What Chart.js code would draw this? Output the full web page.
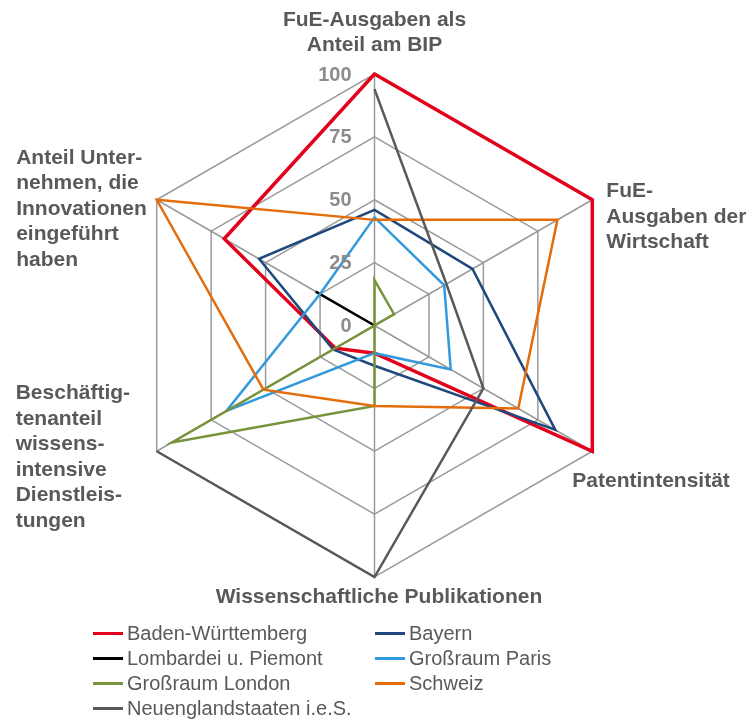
<!DOCTYPE html>
<html><head><meta charset="utf-8">
<script src="https://cdn.jsdelivr.net/npm/chart.js@4/dist/chart.umd.min.js"></script>
<style>
html,body{margin:0;padding:0;background:#fff;}
#wrap{position:relative;width:750px;height:719px;overflow:hidden;}
.li{position:absolute;height:24px;display:flex;align-items:center;font:20px "Liberation Sans",Arial,sans-serif;color:#595959;white-space:nowrap;}
.li i{display:inline-block;width:30px;height:3px;margin-right:4px;}
</style></head><body>
<div id="wrap"><canvas id="c" width="750" height="719"></canvas><div id="legend"></div></div>
<script>
// ---- data ----
const categories = [
  'FuE-Ausgaben als Anteil am BIP',
  'FuE-Ausgaben der Wirtschaft',
  'Patentintensität',
  'Wissenschaftliche Publikationen',
  'Beschäftigtenanteil wissensintensive Dienstleistungen',
  'Anteil Unternehmen, die Innovationen eingeführt haben'
];
const categoryLines = [
  ['FuE-Ausgaben als', 'Anteil am BIP'],
  ['FuE-', 'Ausgaben der', 'Wirtschaft'],
  ['Patentintensität'],
  ['Wissenschaftliche Publikationen'],
  ['Beschäftig-', 'tenanteil', 'wissens-', 'intensive', 'Dienstleis-', 'tungen'],
  ['Anteil Unter-', 'nehmen, die', 'Innovationen', 'eingeführt', 'haben']
];
const tickValues = [0, 25, 50, 75, 100];
const seriesNames = ['Baden-Württemberg', 'Bayern', 'Lombardei u. Piemont', 'Großraum Paris', 'Großraum London', 'Schweiz', 'Neuenglandstaaten i.e.S.'];
const badenWuerttemberg = [100, 100, 100, 11, 18, 69];
const bayern            = [46, 45, 83, 16, 19, 53];
const lombardei         = [0, 0, 0, 0, 0, 27];
const paris             = [43, 32, 35, 11, 68, 25];
const london            = [18, 9, 0, 32, 93, 0];
const schweiz           = [42, 84, 66, 32, 51, 100];
const neuengland        = [94, 33, 50, 100, 100, null];
const seriesValues = [badenWuerttemberg, bayern, lombardei, paris, london, schweiz, neuengland];

// ---- styles ----
const seriesColors = ['#E3001B', '#1F497D', '#000000', '#3399DD', '#77933C', '#E46C0A', '#595959'];
const seriesWidths = [3.5, 2.5, 2.5, 2.5, 2.5, 2.5, 2.5];
const FONT = '"Liberation Sans", Arial, sans-serif';
const labelLayout = [
  {align: 'center', dx: 0,      dy: -54},
  {align: 'left',   dx: 14,     dy: -8.5},
  {align: 'left',   dx: -20,    dy: 30},
  {align: 'center', dx: 4.5,    dy: 20.5},
  {align: 'left',   dx: -141,   dy: -58},
  {align: 'left',   dx: -140.5, dy: -42}
];
const lineGap = 25.5;

const labelPlugin = {
  id: 'customLabels',
  afterDraw(chart) {
    const s = chart.scales.r, ctx = chart.ctx;
    ctx.save();
    ctx.textBaseline = 'middle';
    ctx.font = 'bold 21px ' + FONT;
    ctx.fillStyle = '#595959';
    categoryLines.forEach((lines, i) => {
      const p = s.getPointPositionForValue(i, s.max);
      const L = labelLayout[i];
      ctx.textAlign = L.align;
      lines.forEach((t, k) => ctx.fillText(t, p.x + L.dx, p.y + L.dy + k * lineGap));
    });
    ctx.font = 'bold 20px ' + FONT;
    ctx.fillStyle = '#8C8C8C';
    ctx.textAlign = 'right';
    tickValues.forEach(v => {
      const p = s.getPointPositionForValue(0, v);
      ctx.fillText(String(v), p.x - 23, p.y + 1);
    });
    ctx.restore();
  }
};

new Chart(document.getElementById('c'), {
  type: 'radar',
  data: {
    labels: categories,
    datasets: seriesNames.map((n, i) => ({
      label: n,
      data: seriesValues[i],
      borderColor: seriesColors[i],
      backgroundColor: seriesColors[i],
      borderWidth: seriesWidths[i],
      borderJoinStyle: 'miter',
      pointRadius: 0,
      pointHoverRadius: 0,
      fill: false,
      tension: 0,
      spanGaps: false,
      order: seriesNames.length - i
    }))
  },
  options: {
    responsive: false,
    animation: false,
    events: [],
    plugins: { legend: { display: false }, tooltip: { enabled: false } },
    scales: {
      r: {
        min: 0, max: 100,
        ticks: { display: false, stepSize: 25 },
        pointLabels: { display: false },
        grid: { color: '#9A9A9A', lineWidth: 1.5 },
        angleLines: { color: '#9A9A9A', lineWidth: 1.5 },
        afterFit(scale) {
          scale.xCenter = 374.5;
          scale.yCenter = 325.5;
          scale.drawingArea = 251.5;
        }
      }
    }
  },
  plugins: [labelPlugin]
});

// ---- legend (HTML) ----
const legend = document.getElementById('legend');
seriesNames.forEach((n, i) => {
  const row = Math.floor(i / 2), col = i % 2;
  const d = document.createElement('div');
  d.className = 'li';
  d.style.left = (col ? 375 : 93) + 'px';
  d.style.top = (621 + row * 25) + 'px';
  const sw = document.createElement('i');
  sw.style.background = seriesColors[i];
  d.appendChild(sw);
  d.appendChild(document.createTextNode(n));
  legend.appendChild(d);
});
</script>
</body></html>
